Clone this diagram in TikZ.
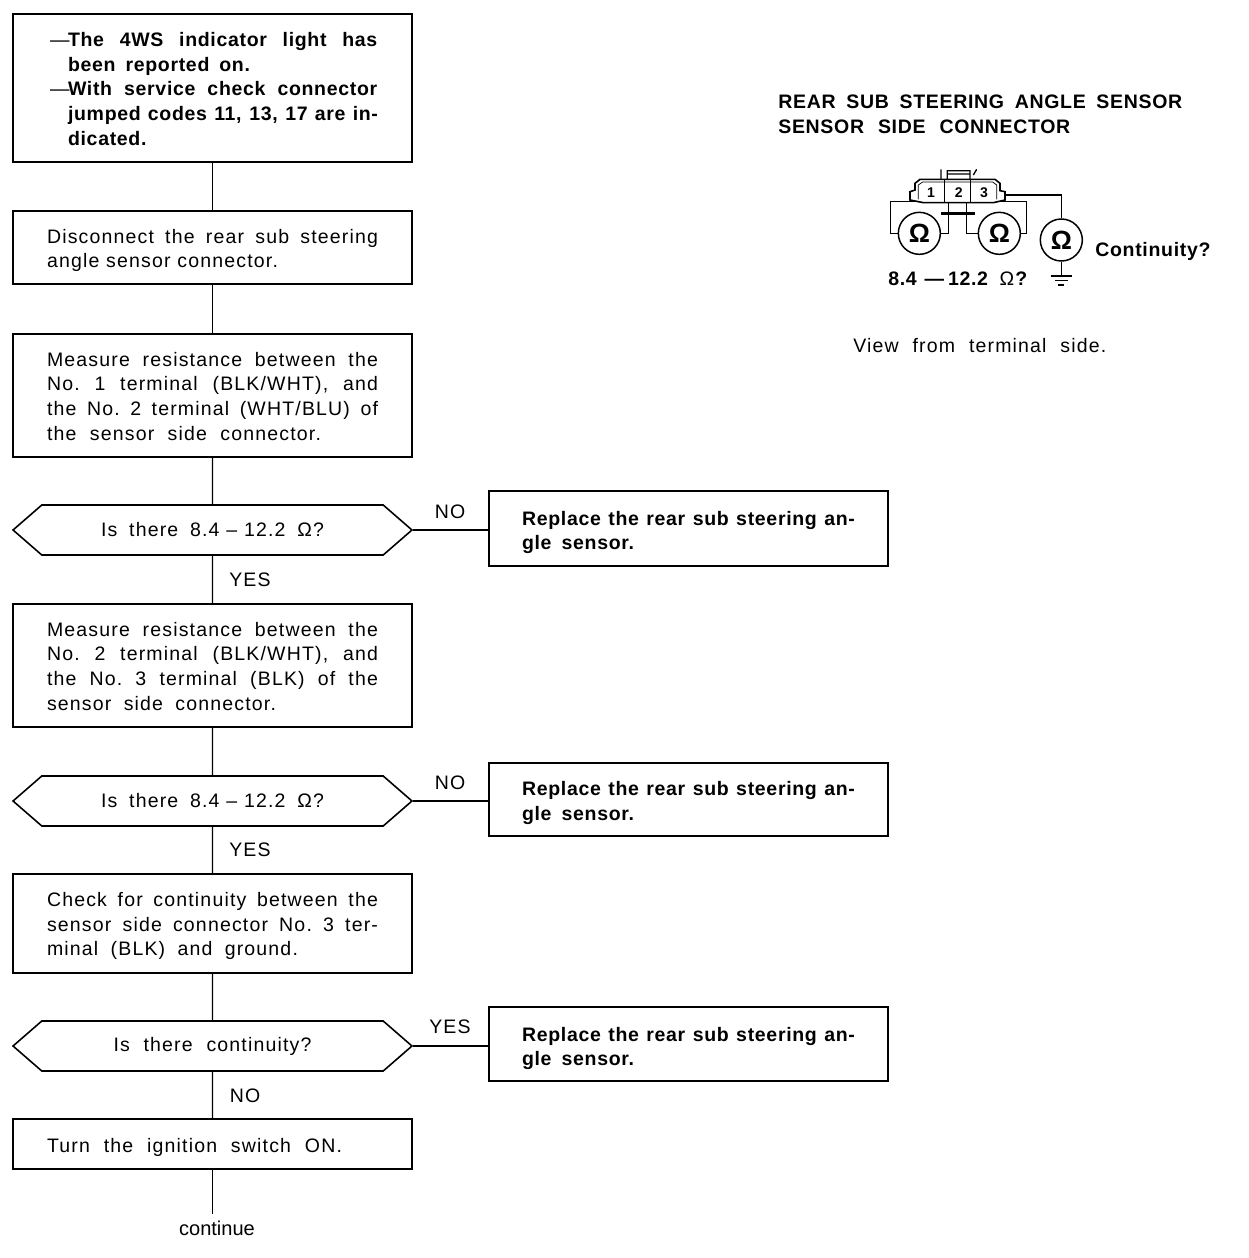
\documentclass[tikz,border=0pt]{standalone}
\usepackage{fontspec}
\usepackage{tikz}
\usetikzlibrary{shapes.symbols}
\setmainfont{Liberation Sans}[LetterSpace=6,BoldFeatures={LetterSpace=3.5}]
\newfontfamily\plainfont{Liberation Sans}
\newcommand{\jline}[2][6.62cm]{\makebox[#1][s]{\spaceskip=.28em plus 1fil minus .15em\relax\xspaceskip=\spaceskip #2}}
\newcommand{\dline}[1]{\makebox[6.62cm][r]{\makebox[.36cm][l]{---}\jline[6.2cm]{#1}}}
\newcommand{\iline}[1]{\makebox[6.62cm][r]{\makebox[6.2cm][l]{#1}}}
\newcommand{\dropby}[1]{\rule{0pt}{\dimexpr 8pt+#1\relax}}
\tikzset{
  stepbox/.style={draw, rectangle, line width=0.9pt, minimum width=7.98cm, inner sep=0pt, text width=6.62cm, align=left, font=\fontsize{11.1pt}{14pt}\selectfont},
  resultbox/.style={stepbox, text width=6.66cm, font=\fontsize{11.1pt}{14pt}\selectfont\bfseries},
  askbox/.style={draw, shape=signal, signal to=east and west, signal pointer angle=82, line width=0.9pt, minimum width=7.98cm, minimum height=1cm, inner sep=0pt, font=\fontsize{11.1pt}{14pt}\selectfont},
  answer/.style={inner sep=0pt, font=\fontsize{11.1pt}{14pt}\selectfont},
  title/.style={inner sep=0pt, anchor=west, font=\fontsize{11.1pt}{14pt}\selectfont\bfseries},
  meter/.style={draw, circle, line width=0.85pt, minimum size=0.84cm, inner sep=0pt, font=\fontsize{15pt}{15pt}\selectfont\bfseries},
  pin/.style={inner sep=0pt, font=\fontsize{8pt}{8pt}\selectfont\bfseries},
  wire/.style={line width=0.75pt}
}
\begin{document}
\begin{tikzpicture}[x=0.02cm, y=-0.02cm]%
\useasboundingbox (0,0) rectangle (1248,1258);%
\node[stepbox, minimum height=2.96cm] (check) at (212.5,88) {\dropby{.04cm}\dline{\textbf{The 4WS indicator light has}}\\ \iline{\textbf{\jline[3.64cm]{been reported on.}}}\\ \dline{\textbf{With service check connector}}\\ \iline{\textbf{\jline[6.2cm]{jumped codes 11, 13, 17 are in-}}}\\ \iline{\textbf{dicated.}}};%
\node[stepbox, minimum height=1.46cm] (unplug) at (212.5,247.5) {\dropby{.12cm}\jline{Disconnect the rear sub steering}\\ \jline[4.62cm]{angle sensor connector.}};%
\node[stepbox, minimum height=2.46cm] (measureA) at (212.5,395.5) {\dropby{.03cm}\jline{Measure resistance between the}\\ \jline{No. 1 terminal (BLK/WHT), and}\\ \jline{the No. 2 terminal (WHT/BLU) of}\\ \jline[5.48cm]{the sensor side connector.}};%
\node[askbox] (askA) at (212.5,530) {\raisebox{-.05cm}{\jline[4.46cm]{Is there 8.4\kern.35em--\kern.35em 12.2 Ω?}}};%
\node[resultbox, minimum height=1.5cm] (replaceA) at (688.5,528.5) {\dropby{.16cm}\jline[6.66cm]{Replace the rear sub steering an-}\\ \jline[2.24cm]{gle sensor.}};%
\node[stepbox, minimum height=2.46cm] (measureB) at (212.5,665.5) {\dropby{.03cm}\jline{Measure resistance between the}\\ \jline{No. 2 terminal (BLK/WHT), and}\\ \jline{the No. 3 terminal (BLK) of the}\\ \jline[4.58cm]{sensor side connector.}};%
\node[askbox] (askB) at (212.5,801) {\raisebox{-.05cm}{\jline[4.46cm]{Is there 8.4\kern.35em--\kern.35em 12.2 Ω?}}};%
\node[resultbox, minimum height=1.46cm] (replaceB) at (688.5,799.5) {\dropby{.14cm}\jline[6.66cm]{Replace the rear sub steering an-}\\ \jline[2.24cm]{gle sensor.}};%
\node[stepbox, minimum height=1.98cm] (ground) at (212.5,923.5) {\dropby{.1cm}\jline{Check for continuity between the}\\ \jline{sensor side connector No. 3 ter-}\\ \jline[5.02cm]{minal (BLK) and ground.}};%
\node[askbox] (askC) at (212.5,1046) {\raisebox{-.13cm}{\jline[3.96cm]{Is there continuity?}}};%
\node[resultbox, minimum height=1.48cm] (replaceC) at (688.5,1044) {\dropby{.18cm}\jline[6.66cm]{Replace the rear sub steering an-}\\ \jline[2.24cm]{gle sensor.}};%
\node[stepbox, minimum height=1cm] (ignition) at (212.5,1144) {\dropby{.12cm}\jline[5.9cm]{Turn the ignition switch ON.}};%
\node[inner sep=0pt, font=\fontsize{11.4pt}{13pt}\selectfont\plainfont] (cont) at (217,1228) {continue};%
\coordinate (contTop) at (212.5,1214);%
\node[answer] (yesA) at (250,580) {YES};%
\node[answer] (noA) at (450,512) {NO};%
\node[answer] (yesB) at (250,850) {YES};%
\node[answer] (noB) at (450,783) {NO};%
\node[answer] (noC) at (245,1096) {NO};%
\node[answer] (yesC) at (450,1027) {YES};%
\draw[wire] (check) -- (unplug);%
\draw[wire] (unplug) -- (measureA);%
\draw[wire] (measureA) -- (askA);%
\draw[wire] (askA) -- (measureB);%
\draw[wire] (measureB) -- (askB);%
\draw[wire] (askB) -- (ground);%
\draw[wire] (ground) -- (askC);%
\draw[wire] (askC) -- (ignition);%
\draw[wire] (ignition.south) -- (contTop);%
\draw[wire] (askA.east) -- (askA.east -| replaceA.west);%
\draw[wire] (askB.east) -- (askB.east -| replaceB.west);%
\draw[wire] (askC.east) -- (askC.east -| replaceC.west);%
\node[title] (titleA) at (778,102) {\jline[8.08cm]{REAR SUB STEERING ANGLE SENSOR}};%
\node[title] (titleB) at (778,127) {\jline[5.84cm]{SENSOR SIDE CONNECTOR}};%
\node[answer, anchor=west] (view) at (853,346) {\jline[5.06cm]{View from terminal side.}};%
\node[title] (ask) at (1095,251) {Continuity?};%
\node[title] (range) at (888,279) {\jline[2.78cm]{8.4\kern.4em---\kern.2em 12.2 \textnormal{Ω}?}};%
\begin{scope}[shift={(860,150)}, x=0.00667cm, y=-0.00667cm]%
\node[meter] (ohmA) at (178,250) {Ω};%
\node[meter] (ohmB) at (418,250) {Ω};%
\node[meter] (ohmC) at (604,270) {Ω};%
\node[pin] (pinA) at (213,128) {1};%
\node[pin] (pinB) at (296,128) {2};%
\node[pin] (pinC) at (372,128) {3};%
\coordinate (gnd) at (604,378);%
\draw[line width=0.9pt] (150,150) -- (150,125) -- (165,120) -- (165,100) -- (180,88) -- (405,88) -- (420,100) -- (420,122) -- (435,125) -- (435,150) -- (400,158) -- (190,158) -- cycle;%
\draw[line width=0.4pt] (175,148) -- (175,105) -- (188,96) -- (398,96) -- (410,105) -- (410,148);%
\draw[wire] (253,88) -- (253,158) (332,88) -- (332,158);%
\draw[wire] (243,88) -- (243,58) (262,88) -- (262,62) -- (330,62) -- (330,88) (262,72) -- (330,72) (340,75) -- (350,58);%
\draw[line width=1.7pt] (243,190) -- (345,190);%
\draw[wire] (ohmA.west) -- (92,250) |- (170,155);%
\draw[wire] (ohmA.east) -- (265,250) -- (265,155);%
\draw[wire] (ohmB.west) -- (320,250) -- (320,155);%
\draw[wire] (ohmB.east) -- (500,250) |- (410,155);%
\draw[wire] (ohmC.north) |- (435,135);%
\draw[wire] (ohmC.south) -- (gnd);%
\draw[wire] (572,378) -- (637,378) (585,392) -- (625,392) (595,405) -- (612,405);%
\end{scope}%
\end{tikzpicture}
\end{document}
